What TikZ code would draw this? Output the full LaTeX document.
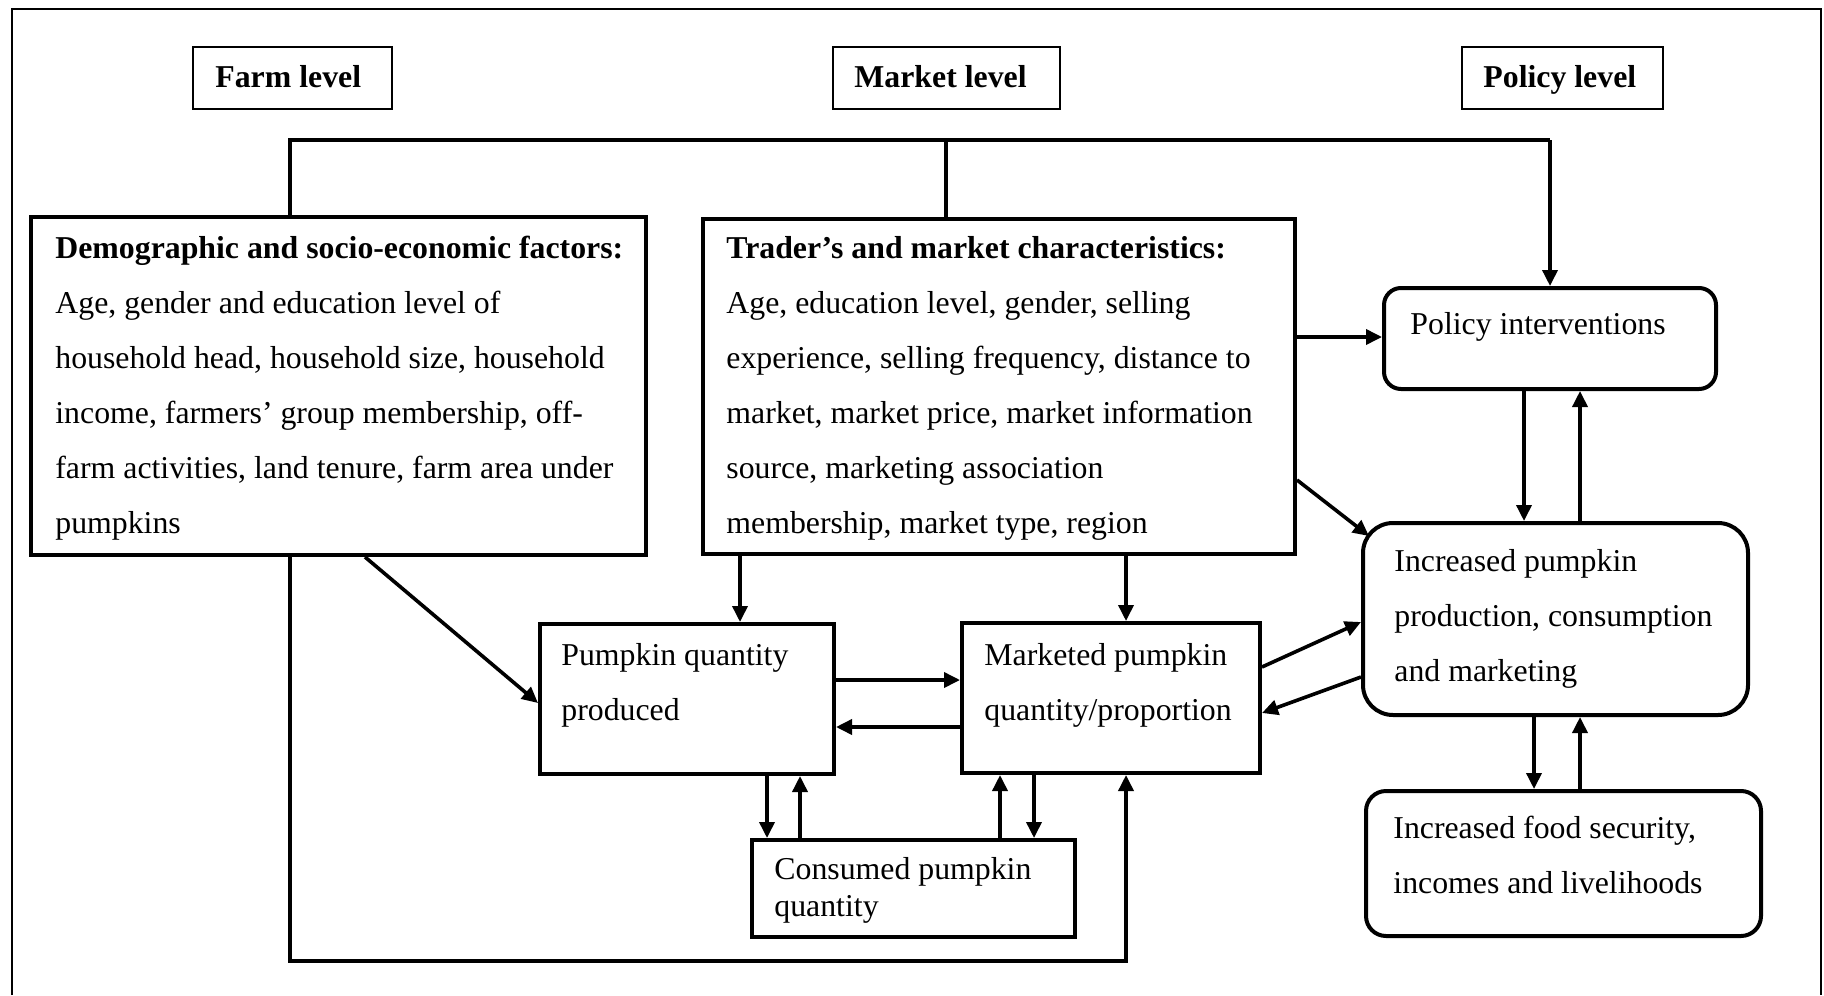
\documentclass[tikz,border=0pt]{standalone}
\usepackage{fontspec}
\setmainfont{Liberation Serif}
\usetikzlibrary{arrows.meta,fit}
\begin{document}
\begin{tikzpicture}[x=0.5pt,y=-0.5pt,
  box/.style={draw,line width=2pt,inner sep=0pt},
  lvl/.style={draw,line width=1.1pt,inner sep=0pt},
  txt/.style={inner sep=0pt,anchor=base west,align=left,font=\fontsize{15.9}{27.5}\selectfont},
  ln/.style={line width=1.8pt},
  arr/.style={ln,-{Triangle[length=8pt,width=7.5pt]}},
  frame/.style={line width=0.9pt}
]
\useasboundingbox (0,0) rectangle (1824,995);
% outer frame (open at the bottom)
\draw[frame] (12,995) -- (12,9) -- (1821,9) -- (1821,995);

% level boxes
\node[lvl,fit={(193,47)(392,109)}] (farm) {};
\node[txt] (farmt) at (215,88) {\textbf{Farm level}};
\node[lvl,fit={(833,47)(1060,109)}] (mlev) {};
\node[txt] (mlevt) at (854,88) {\textbf{Market level}};
\node[lvl,fit={(1462,47)(1663,109)}] (plev) {};
\node[txt] (plevt) at (1483,88) {\textbf{Policy level}};

% main boxes (text nodes are anchored at the baseline of their last line)
\node[box,fit={(31,217)(646,555)}] (dem) {};
\node[txt] (demt) at (55,533) {\textbf{Demographic and socio-economic factors:}\\
Age, gender and education level of\\
household head, household size, household\\
income, farmers’ group membership, off-\\
farm activities, land tenure, farm area under\\
pumpkins};

\node[box,fit={(703,219)(1295,554)}] (trd) {};
\node[txt] (trdt) at (726,533) {\textbf{Trader’s and market characteristics:}\\
Age, education level, gender, selling\\
experience, selling frequency, distance to\\
market, market price, market information\\
source, marketing association\\
membership, market type, region};

\node[box,rounded corners=8.5pt,fit={(1384,288)(1716,389)}] (pol) {};
\node[txt] (polt) at (1410,334) {Policy interventions};

\node[box,rounded corners=15pt,fit={(1363,523)(1748,715)}] (inc) {};
\node[txt] (inct) at (1394,681) {Increased pumpkin\\production, consumption\\and marketing};

\node[box,rounded corners=10pt,fit={(1366,791)(1761,936)}] (food) {};
\node[txt] (foodt) at (1393,893) {Increased food security,\\incomes and livelihoods};

\node[box,fit={(540,624)(834,774)}] (prod) {};
\node[txt] (prodt) at (561,720) {Pumpkin quantity\\produced};

\node[box,fit={(962,623)(1260,773)}] (mkt) {};
\node[txt] (mktt) at (984,720) {Marketed pumpkin\\quantity/proportion};

\node[box,fit={(752,840)(1075,937)}] (cons) {};
\node[txt,font=\fontsize{15.9}{18.5}\selectfont] (const) at (774,916) {Consumed pumpkin\\quantity};

% helper coordinates
\coordinate (xa) at (290,0);
\coordinate (xb) at (946,0);
\coordinate (xc) at (1550,0);
\coordinate (ybus) at (0,140);
\coordinate (x740) at (740,0);
\coordinate (x1126) at (1126,0);
\coordinate (x365) at (365,0);
\coordinate (x1524) at (1524,0);
\coordinate (x1580) at (1580,0);
\coordinate (x1534) at (1534,0);
\coordinate (x767) at (767,0);
\coordinate (x800) at (800,0);
\coordinate (x1000) at (1000,0);
\coordinate (x1034) at (1034,0);
\coordinate (y337) at (0,337);
\coordinate (y480) at (0,480);
\coordinate (y703) at (0,703);
\coordinate (y680) at (0,680);
\coordinate (y727) at (0,727);
\coordinate (y667) at (0,667);
\coordinate (y622) at (0,622);
\coordinate (y677) at (0,677);
\coordinate (y713) at (0,713);
\coordinate (y961) at (0,961);
\coordinate (incc) at (1369,536);

% top bus
\draw[ln] (dem.north -| xa) -- (xa |- ybus) -- (xc |- ybus);
\draw[arr] (xc |- ybus) -- (pol.north -| xc);
\draw[ln] (xb |- ybus) -- (trd.north -| xb);

% from trader box
\draw[arr] (trd.east |- y337) -- (pol.west |- y337);
\draw[arr] (trd.east |- y480) -- (incc);
\draw[arr] (trd.south -| x740) -- (prod.north -| x740);
\draw[arr] (trd.south -| x1126) -- (mkt.north -| x1126);

% from demographic box
\draw[arr] (dem.south -| x365) -- (prod.west |- y703);
\draw[arr] (dem.south -| xa) -- (xa |- y961) -- (x1126 |- y961) -- (mkt.south -| x1126);

% between produced and marketed
\draw[arr] (prod.east |- y680) -- (mkt.west |- y680);
\draw[arr] (mkt.west |- y727) -- (prod.east |- y727);

% consumed
\draw[arr] (prod.south -| x767) -- (cons.north -| x767);
\draw[arr] (cons.north -| x800) -- (prod.south -| x800);
\draw[arr] (cons.north -| x1000) -- (mkt.south -| x1000);
\draw[arr] (mkt.south -| x1034) -- (cons.north -| x1034);

% marketed <-> increased
\draw[arr] (mkt.east |- y667) -- (inc.west |- y622);
\draw[arr] (inc.west |- y677) -- (mkt.east |- y713);

% policy <-> increased
\draw[arr] (pol.south -| x1524) -- (inc.north -| x1524);
\draw[arr] (inc.north -| x1580) -- (pol.south -| x1580);

% increased <-> food
\draw[arr] (inc.south -| x1534) -- (food.north -| x1534);
\draw[arr] (food.north -| x1580) -- (inc.south -| x1580);
\end{tikzpicture}
\end{document}
